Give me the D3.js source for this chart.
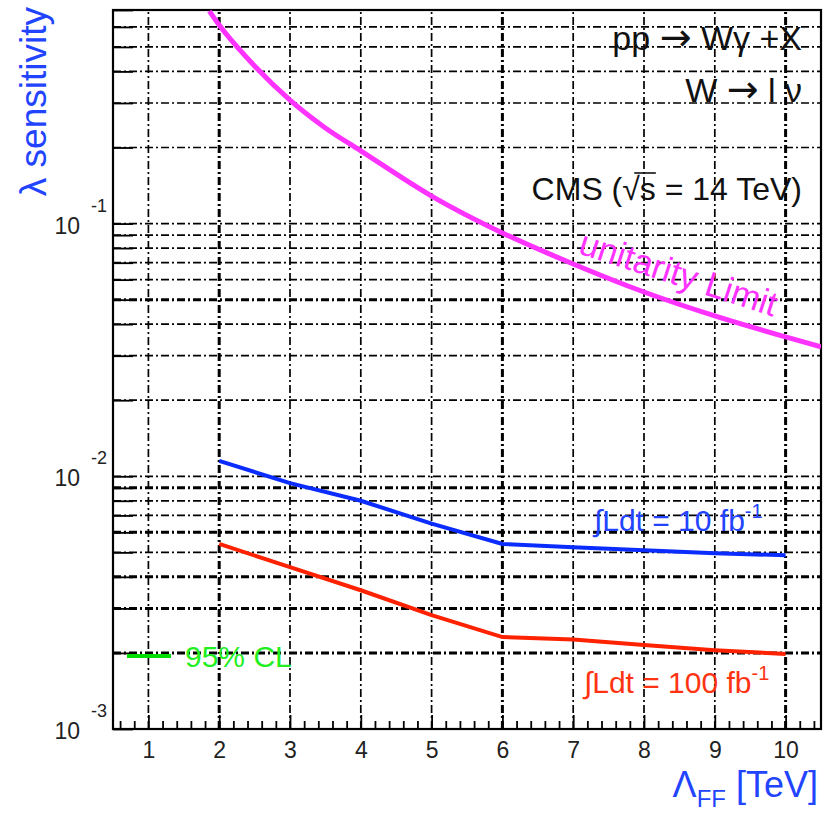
<!DOCTYPE html>
<html lang="en">
<head>
<meta charset="utf-8">
<title>lambda sensitivity vs Lambda_FF</title>
<script src="https://cdn.jsdelivr.net/npm/d3@7"></script>
<style>
  body { margin: 0; background: #fff; }
  svg text { font-family: "Liberation Sans", Arial, Helvetica, sans-serif; }
</style>
</head>
<body>
<script>
  // axis ranges and tick labels
  const xRange = [0.5, 10.5];
  const yRange = [0.001, 0.7];
  const xMajor = [1, 2, 3, 4, 5, 6, 7, 8, 9, 10];
  const yExponents = [-3, -2, -1];

  // unitarity limit (magenta)
  const unitarityLambda = [1.86, 2, 2.5, 3, 3.5, 4, 5, 6, 7, 8, 9, 10, 10.5];
  const unitarityValue = [0.693, 0.610, 0.420, 0.308, 0.239, 0.194, 0.1285, 0.0918, 0.0692, 0.0536, 0.0431, 0.0356, 0.0325];

  // 95% CL sensitivity for two luminosities
  const lumiLambda = [2, 3, 4, 5, 6, 7, 8, 9, 10];
  const sens10fb = [0.0115, 0.0094, 0.0080, 0.0065, 0.0054, 0.00524, 0.00510, 0.00496, 0.00487];
  const sens100fb = [0.0054, 0.00437, 0.00354, 0.00282, 0.00231, 0.00226, 0.00215, 0.00205, 0.00198];

  const w = 829;
  const h = 813;
  const m = { left: 113, top: 10, right: 821, bottom: 729 };

  const svg = d3.select("body").append("svg")
    .attr("width", w)
    .attr("height", h);

  const x = d3.scaleLinear().domain(xRange).range([m.left, m.right]);
  const y = d3.scaleLog().domain(yRange).range([m.bottom, m.top]);

  // grid at every log subdivision
  const yGrid = [];
  yExponents.forEach(function (e) {
    for (let k = 1; k <= 9; k++) {
      const v = +(k * Math.pow(10, e)).toPrecision(3);
      if (v <= yRange[1]) yGrid.push(v);
    }
  });
  // some grid lines came out heavier in the original print
  const boldX = [2, 6, 10];
  const boldY = [0.05, 0.009, 0.006, 0.004, 0.003, 0.002];

  const grid = svg.append("g")
    .attr("stroke", "#000")
    .attr("fill", "none")
    .attr("stroke-dasharray", "8,3,2,3");

  grid.selectAll("line.gx")
    .data(xMajor)
    .join("line")
    .attr("class", "gx")
    .attr("x1", d => x(d)).attr("x2", d => x(d))
    .attr("y1", m.bottom).attr("y2", m.top)
    .attr("stroke-width", d => boldX.includes(d) ? 3 : 1.7);

  grid.selectAll("line.gy")
    .data(yGrid)
    .join("line")
    .attr("class", "gy")
    .attr("x1", m.left).attr("x2", m.right)
    .attr("y1", d => y(d)).attr("y2", d => y(d))
    .attr("stroke-width", d => boldY.includes(d) ? 3 : 1.7);

  // x axis, ticks pointing inward
  const xAxis = svg.append("g")
    .attr("transform", "translate(0," + m.bottom + ")")
    .call(d3.axisBottom(x).tickValues(xMajor).tickSizeInner(-14).tickSizeOuter(0).tickPadding(13));
  xAxis.select(".domain").remove();
  xAxis.selectAll(".tick line").attr("stroke-width", 1.8);
  xAxis.selectAll("text")
    .attr("font-size", 23)
    .attr("font-family", "Liberation Sans, Arial, sans-serif")
    .attr("fill", "#222");

  const xMinor = d3.range(6, 105, 2).map(v => v / 10).filter(v => v % 1 !== 0);
  const xMinorAxis = svg.append("g")
    .attr("transform", "translate(0," + m.bottom + ")")
    .call(d3.axisBottom(x).tickValues(xMinor).tickSizeInner(-8).tickSizeOuter(0).tickFormat(""));
  xMinorAxis.select(".domain").remove();
  xMinorAxis.selectAll(".tick line").attr("stroke-width", 1.8);

  // y axis ticks (labels drawn by hand for the exponent)
  const yAxis = svg.append("g")
    .attr("transform", "translate(" + m.left + ",0)")
    .call(d3.axisLeft(y).tickValues(yGrid).tickSizeInner(-20).tickSizeOuter(0).tickFormat(""));
  yAxis.select(".domain").remove();
  yAxis.selectAll(".tick line").attr("stroke-width", 1.8);

  const yLab = svg.append("g").attr("fill", "#222");
  yExponents.forEach(function (e) {
    const py = y(Math.pow(10, e));
    yLab.append("text")
      .attr("x", 80).attr("y", py + 10)
      .attr("text-anchor", "end")
      .attr("font-size", 23)
      .text("10");
    yLab.append("text")
      .attr("x", 91).attr("y", py - 12)
      .attr("font-size", 18)
      .text(String(e));
  });

  // frame
  svg.append("rect")
    .attr("x", m.left).attr("y", m.top)
    .attr("width", m.right - m.left).attr("height", m.bottom - m.top)
    .attr("fill", "none")
    .attr("stroke", "#000")
    .attr("stroke-width", 2.2);

  // curves
  svg.append("clipPath").attr("id", "plotclip")
    .append("rect")
    .attr("x", m.left).attr("y", m.top)
    .attr("width", m.right - m.left).attr("height", m.bottom - m.top);

  const plot = svg.append("g").attr("clip-path", "url(#plotclip)");

  const smooth = d3.line().x(d => x(d[0])).y(d => y(d[1])).curve(d3.curveMonotoneX);
  const straight = d3.line().x(d => x(d[0])).y(d => y(d[1]));

  plot.append("path")
    .datum(d3.zip(unitarityLambda, unitarityValue))
    .attr("d", smooth)
    .attr("fill", "none")
    .attr("stroke", "#ff33ff")
    .attr("stroke-width", 5);

  plot.append("path")
    .datum(d3.zip(lumiLambda, sens10fb))
    .attr("d", straight)
    .attr("fill", "none")
    .attr("stroke", "#0a2cff")
    .attr("stroke-width", 4);

  plot.append("path")
    .datum(d3.zip(lumiLambda, sens100fb))
    .attr("d", straight)
    .attr("fill", "none")
    .attr("stroke", "#ff2200")
    .attr("stroke-width", 4);

  // legend for 95% CL
  svg.append("line")
    .attr("x1", 127).attr("x2", 171)
    .attr("y1", 656).attr("y2", 656)
    .attr("stroke", "#00dd00")
    .attr("stroke-width", 4);
  svg.append("text")
    .attr("x", 185).attr("y", 667)
    .attr("font-size", 30)
    .attr("fill", "#22ee22")
    .text("95% CL");

  // annotations
  function arrowText(px, py, before, after) {
    const t = svg.append("text")
      .attr("x", px).attr("y", py)
      .attr("text-anchor", "end")
      .attr("font-size", 34)
      .attr("fill", "#111");
    t.append("tspan").text(before);
    t.append("tspan").attr("font-family", "DejaVu Sans").attr("font-size", 38).text("\u2192");
    t.append("tspan").text(after);
  }
  arrowText(802, 50, "pp ", " W\u03b3 +X");
  arrowText(802, 102, "W ", " l \u03bd");

  const cms = svg.append("text")
    .attr("x", 802).attr("y", 200)
    .attr("text-anchor", "end")
    .attr("font-size", 32)
    .attr("fill", "#111")
    .text("CMS (\u221as = 14 TeV)");
  // bar of the square root over the s
  const cmsNode = cms.node();
  const sStart = cmsNode.getStartPositionOfChar(5).x;
  const sEnd = cmsNode.getEndPositionOfChar(6).x;
  svg.append("line")
    .attr("x1", sStart + 12).attr("x2", sEnd)
    .attr("y1", 173).attr("y2", 173)
    .attr("stroke", "#111")
    .attr("stroke-width", 1.6);

  svg.append("text")
    .attr("transform", "translate(577,253) rotate(18)")
    .attr("font-size", 35)
    .attr("fill", "#ff33ff")
    .text("unitarity Limit");

  function lumiLabel(px, py, value, color) {
    const t = svg.append("text")
      .attr("x", px).attr("y", py)
      .attr("font-size", 30)
      .attr("fill", color);
    t.append("tspan").text("\u222bLdt = " + value + " fb");
    t.append("tspan").attr("dy", -13).attr("font-size", 20).text("-1");
  }
  lumiLabel(594, 531, "10", "#2244ff");
  lumiLabel(584, 693, "100", "#ff3311");

  // axis titles
  const xt = svg.append("text")
    .attr("x", 818).attr("y", 797)
    .attr("text-anchor", "end")
    .attr("font-size", 36)
    .attr("fill", "#2244ff");
  xt.append("tspan").text("\u039b");
  xt.append("tspan").attr("dy", 10).attr("font-size", 24).text("FF");
  xt.append("tspan").attr("dy", -10).text(" [TeV]");

  svg.append("text")
    .attr("transform", "translate(46,7) rotate(-90)")
    .attr("text-anchor", "end")
    .attr("font-size", 37)
    .attr("fill", "#2244ff")
    .text("\u03bb sensitivity");
</script>
</body>
</html>
